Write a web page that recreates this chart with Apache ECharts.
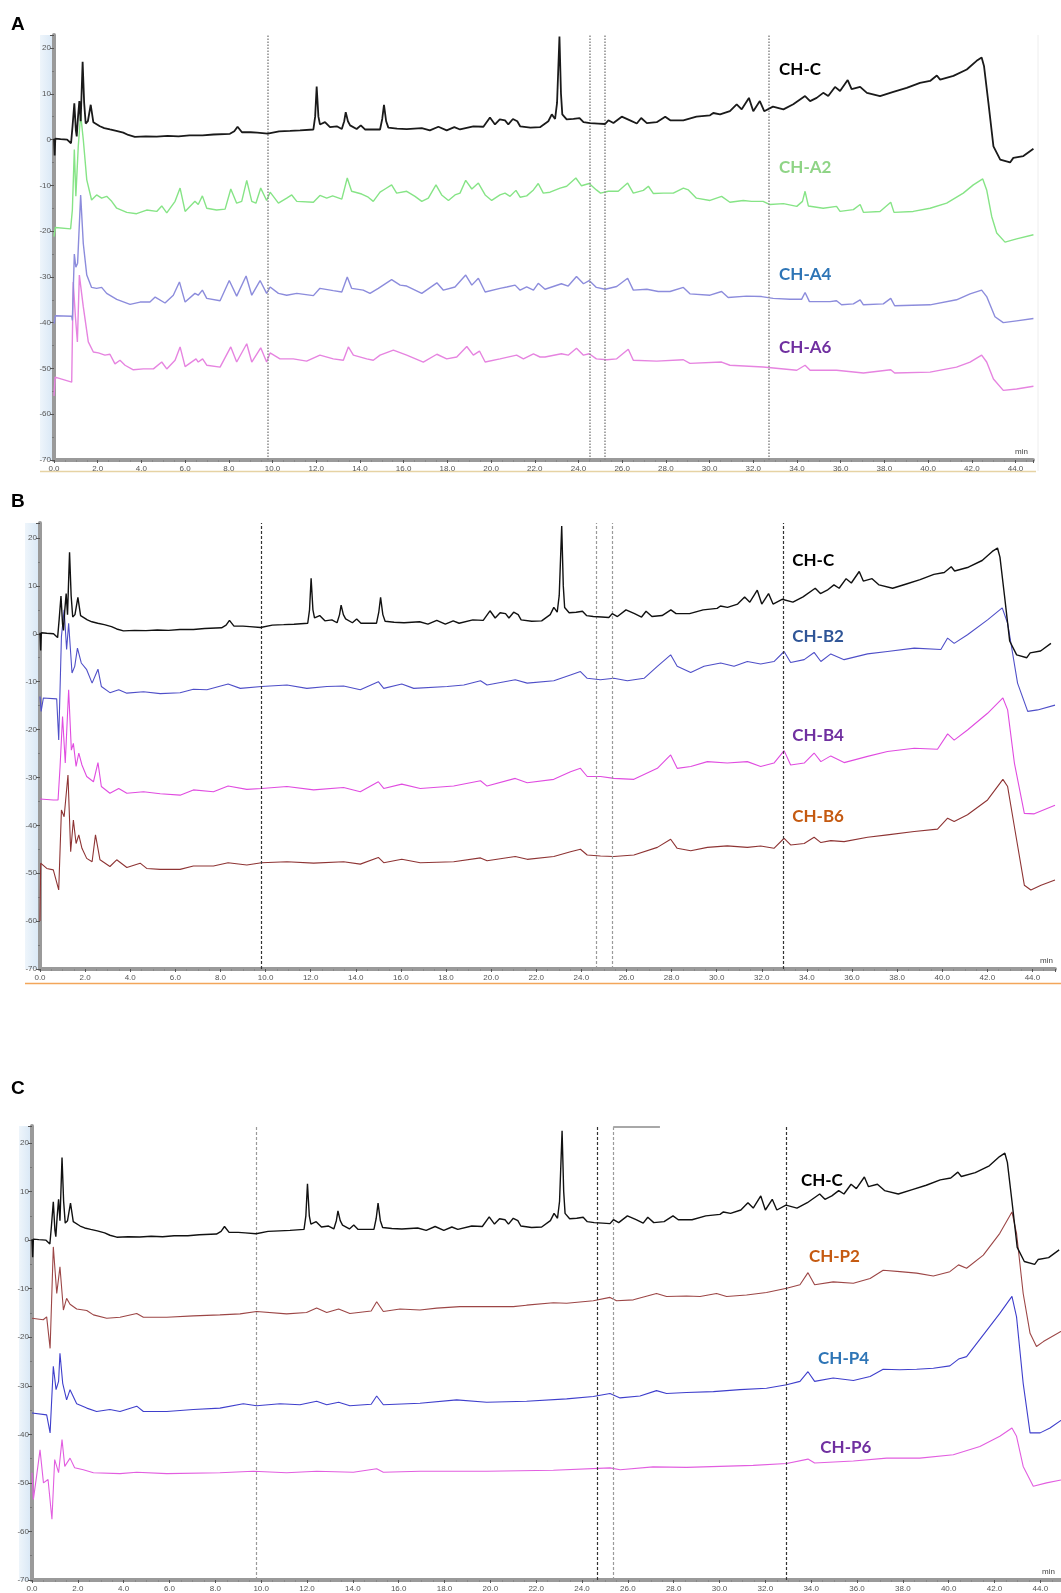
<!DOCTYPE html>
<html>
<head>
<meta charset="utf-8">
<script src="https://cdn.jsdelivr.net/npm/echarts@6/dist/echarts.min.js"></script>
<style>
html,body{margin:0;padding:0;background:#fff;}
#chart{width:1061px;height:1593px;}
</style>
</head>
<body>
<div id="chart"></div>
<script>
// ---------- DATA (minutes, signal) ----------
const CH_C = [[0,0.2],[0.03,-3.5],[0.06,0.2],[0.3,0.1],[0.6,0],[0.78,-0.8],[0.85,3],[0.93,7.9],[1.0,2],[1.04,0.7],[1.1,5],[1.16,8.4],[1.22,4],[1.31,17.0],[1.38,8],[1.45,3.5],[1.55,4],[1.68,7.6],[1.8,3.8],[2.1,2.9],[2.3,2.5],[2.56,2.2],[2.85,1.9],[3.17,1.5],[3.4,1.0],[3.7,0.6],[4.2,0.7],[4.7,0.65],[5.2,0.8],[5.7,0.7],[6.2,0.9],[6.8,0.9],[7.3,1.1],[8.05,1.25],[8.25,1.8],[8.4,2.8],[8.6,1.6],[9.0,1.6],[9.3,1.5],[9.78,1.3],[10.3,1.8],[10.8,1.9],[11.26,2.0],[11.87,2.2],[11.95,5],[12.02,11.6],[12.1,5],[12.17,3.3],[12.4,3.8],[12.63,2.7],[12.94,2.9],[13.17,2.3],[13.28,4],[13.35,6.0],[13.45,4],[13.55,3.1],[13.85,2.3],[14.04,3.1],[14.23,2.2],[14.92,2.2],[15.02,4.5],[15.1,7.6],[15.2,4],[15.3,2.6],[15.7,2.4],[16.14,2.3],[16.83,2.5],[17.2,2.0],[17.59,2.8],[17.97,2.0],[18.32,2.7],[18.58,2.2],[19.19,2.9],[19.65,2.8],[19.95,4.8],[20.18,3.3],[20.4,4.4],[20.64,4.2],[20.79,3.3],[21.0,4.5],[21.2,4.0],[21.33,2.9],[21.8,2.6],[22.24,2.7],[22.62,4.0],[22.78,5.5],[22.93,4.5],[23.02,8],[23.13,22.5],[23.2,10],[23.26,5.5],[23.46,4.4],[23.77,4.5],[24.05,4.7],[24.23,3.8],[24.53,3.6],[24.9,3.5],[25.22,3.4],[25.37,4.2],[25.6,3.6],[25.98,5.0],[26.36,4.2],[26.67,3.5],[26.87,4.7],[27.13,3.6],[27.58,3.8],[27.97,5.0],[28.2,4.2],[28.8,4.2],[29.4,5.0],[30.02,5.3],[30.17,5.8],[30.48,5.5],[30.93,6.2],[31.24,7.7],[31.47,6.6],[31.8,9.1],[32.0,6.2],[32.3,8.4],[32.5,6.2],[32.9,7.2],[33.38,6.6],[33.83,7.7],[34.37,9.5],[34.6,8.4],[34.9,9.1],[35.2,10.2],[35.43,9.5],[35.74,11.5],[35.97,10.6],[36.32,13.0],[36.5,11.0],[36.89,11.5],[37.2,10.2],[37.8,9.5],[38.41,10.4],[39.02,11.3],[39.63,12.4],[40.09,12.8],[40.4,14.0],[40.55,13.1],[41.16,13.9],[41.77,15.3],[42.22,17.2],[42.45,17.9],[42.56,16.0],[42.76,8.0],[42.99,-1.5],[43.3,-4.4],[43.75,-5.0],[43.9,-4.0],[44.36,-3.6],[44.82,-2.0]];

const CH_A2 = [[0,-21.2],[0.06,-19.2],[0.76,-19.5],[0.84,-15.4],[0.93,-2.2],[1.0,-12.4],[1.11,-1.5],[1.22,5.5],[1.34,0],[1.5,-8.8],[1.72,-13.2],[1.95,-12.1],[2.18,-12.8],[2.41,-12.4],[2.64,-13.5],[2.87,-15],[3.33,-15.9],[3.78,-16.2],[4.24,-15.4],[4.7,-15.7],[4.93,-14.5],[5.16,-16],[5.54,-13.5],[5.77,-10.6],[6.0,-15.7],[6.45,-13.5],[6.6,-14.2],[6.79,-12.3],[6.99,-15],[7.44,-15.4],[7.83,-15.2],[8.09,-10.8],[8.36,-13.9],[8.59,-13.5],[8.82,-8.9],[9.05,-13.5],[9.24,-13.9],[9.46,-10.6],[9.73,-13.3],[9.89,-11.5],[10.27,-13.9],[10.65,-12.8],[10.88,-12.1],[11.11,-13.5],[11.87,-13.7],[12.17,-12.2],[12.48,-12.8],[12.75,-12.3],[13.17,-13.0],[13.42,-8.4],[13.62,-11.3],[14.08,-11.9],[14.38,-12.6],[14.61,-13.5],[14.92,-11.5],[15.15,-10.8],[15.45,-9.9],[15.68,-11.7],[16.14,-11.3],[16.52,-12.4],[16.83,-13.5],[17.13,-12.8],[17.48,-9.9],[17.74,-12.1],[18.05,-13.3],[18.35,-12.1],[18.58,-11.7],[18.84,-8.9],[19.12,-10.8],[19.42,-9.5],[19.73,-12.1],[20.03,-13.3],[20.41,-12.1],[20.64,-11.7],[20.87,-12.4],[21.14,-11.1],[21.33,-12.6],[21.63,-12.3],[21.94,-11.0],[22.16,-9.6],[22.39,-11.7],[22.7,-11.5],[23.16,-10.6],[23.46,-10.2],[23.88,-8.4],[24.14,-10.1],[24.49,-9.6],[24.82,-11.0],[25.01,-11.7],[25.37,-11.3],[25.82,-11.3],[26.25,-9.5],[26.51,-11.7],[26.97,-11.1],[27.2,-10.2],[27.43,-11.8],[27.88,-11.7],[28.34,-11.7],[28.8,-10.6],[29.03,-11.0],[29.4,-12.8],[30.02,-13.3],[30.55,-12.4],[30.93,-13.7],[31.54,-13.3],[31.92,-13.5],[32.45,-13.5],[32.76,-14.2],[33.38,-14.0],[33.99,-14.6],[34.25,-13.5],[34.37,-11.3],[34.52,-14.5],[35.2,-15.0],[35.81,-14.6],[35.97,-15.7],[36.58,-15.3],[36.89,-14.2],[37.04,-15.9],[37.8,-15.7],[38.29,-13.7],[38.44,-15.9],[39.32,-15.7],[40.09,-15.0],[40.85,-13.9],[41.61,-11.7],[42.07,-9.9],[42.5,-8.6],[42.68,-11],[42.91,-16.8],[43.14,-20.4],[43.52,-22.4],[44.05,-21.7],[44.82,-20.8]];

const CH_A4 = [[0,-40.2],[0.06,-38.5],[0.81,-38.6],[0.84,-39.5],[0.93,-25],[1.0,-27.9],[1.08,-27],[1.22,-12.1],[1.34,-22.7],[1.5,-29.6],[1.72,-32.3],[1.95,-32.5],[2.18,-32.3],[2.41,-33.6],[2.87,-34.9],[3.48,-36.0],[3.94,-35.5],[4.39,-35.5],[4.63,-34.4],[5.08,-35.7],[5.46,-34],[5.74,-31.1],[6.0,-35.5],[6.45,-33.6],[6.6,-34],[6.79,-32.9],[6.99,-34.7],[7.6,-35.2],[8.02,-30.8],[8.36,-34.2],[8.79,-29.8],[9.05,-34],[9.43,-30.8],[9.73,-33.6],[9.89,-32.2],[10.27,-33.6],[10.65,-34],[11.11,-33.6],[11.87,-34.1],[12.17,-32.5],[12.78,-33],[13.17,-33.3],[13.42,-30],[13.62,-32.5],[14.15,-32.9],[14.46,-33.6],[14.84,-32.5],[15.45,-30.6],[15.84,-31.8],[16.14,-32],[16.83,-33.6],[17.52,-31.3],[17.82,-32.9],[18.35,-32.2],[18.84,-29.6],[19.12,-31.8],[19.42,-30.3],[19.73,-33.3],[20.41,-32.5],[20.72,-32.2],[21.1,-31.8],[21.33,-32.9],[21.63,-32.2],[21.94,-32.9],[22.16,-31.4],[22.47,-32.7],[23.22,-31.5],[23.53,-32],[23.91,-29.9],[24.23,-31.5],[24.49,-30.8],[24.82,-32.3],[25.22,-32.7],[25.75,-32.1],[26.25,-30.3],[26.51,-32.9],[27.13,-32.7],[27.65,-33.2],[28.19,-33.2],[28.8,-32.3],[29.1,-33.7],[30.02,-34],[30.55,-33.2],[30.85,-34.5],[31.69,-34.2],[32.38,-34.3],[32.91,-34.7],[33.68,-34.9],[34.21,-34.9],[34.37,-33.4],[34.57,-35.4],[35.51,-35.4],[35.81,-35.2],[36.04,-36.1],[36.58,-35.9],[36.89,-35],[37.04,-36.1],[37.95,-35.9],[38.29,-34.7],[38.47,-36.3],[40.09,-36.1],[41.3,-35],[41.92,-33.7],[42.45,-32.9],[42.68,-34.3],[43.06,-38.7],[43.44,-40],[44.05,-39.6],[44.82,-39.1]];

const CH_A6 = [[0,-56],[0.05,-51.9],[0.12,-52.3],[0.81,-53],[0.88,-31.1],[0.98,-38.7],[1.07,-44.2],[1.16,-29.6],[1.25,-30],[1.34,-36.5],[1.57,-44.2],[1.8,-46.4],[2.03,-46.6],[2.33,-47.1],[2.56,-46.9],[2.79,-49],[3.02,-48.2],[3.25,-49.3],[3.63,-50.3],[4.09,-50.1],[4.55,-50.1],[4.93,-48.6],[5.16,-50.1],[5.54,-48.2],[5.77,-45.3],[6.0,-49.6],[6.5,-47.9],[6.6,-48.6],[6.8,-47.9],[6.99,-49.3],[7.6,-49.7],[8.09,-45.3],[8.36,-48.6],[8.82,-44.6],[9.05,-48.6],[9.46,-45.5],[9.73,-48.6],[9.89,-46.6],[10.34,-47.9],[10.95,-47.9],[11.56,-48.4],[12.17,-47.1],[12.78,-47.9],[13.24,-48.2],[13.47,-45.3],[13.7,-47.1],[14.31,-47.9],[14.61,-48.2],[14.92,-47.1],[15.53,-46],[16.14,-47.1],[16.9,-48.6],[17.52,-46.9],[17.97,-47.9],[18.43,-47.5],[18.89,-45.2],[19.19,-47.1],[19.47,-46.2],[19.73,-48.6],[20.41,-47.9],[21.17,-47.1],[21.48,-47.9],[21.94,-46.8],[22.24,-47.5],[22.47,-47.5],[23.22,-46.8],[23.53,-47.1],[23.91,-45.6],[24.23,-47.1],[24.49,-46.8],[24.82,-47.9],[25.3,-48.1],[25.75,-47.9],[26.28,-45.8],[26.51,-48.2],[27.58,-48.4],[28.8,-48.1],[29.1,-48.9],[30.55,-48.6],[30.93,-49.3],[32.45,-49.7],[33.99,-50.4],[34.37,-49.3],[34.6,-50.4],[35.81,-50.4],[37.04,-51],[38.29,-50.3],[38.47,-51],[40.09,-50.8],[41.3,-49.7],[41.92,-48.6],[42.45,-47.1],[42.68,-48.6],[42.99,-52.3],[43.44,-54.8],[44.05,-54.5],[44.82,-53.9]];

const CH_B2 = [[0,-13.1],[0.05,-16.2],[0.15,-13.4],[0.74,-13.6],[0.83,-22.2],[0.95,-0.6],[1.07,5.0],[1.18,-3.3],[1.27,2.2],[1.42,-8.2],[1.54,-6.8],[1.66,-3.0],[1.83,-6.1],[2.07,-7.5],[2.31,-10.3],[2.57,-7.4],[2.72,-11],[3.1,-12.3],[3.49,-11.7],[3.85,-12.4],[4.59,-12.1],[5.33,-12.5],[6.21,-12.3],[6.8,-11.6],[7.4,-11.7],[8.34,-10.5],[8.88,-11.4],[9.82,-11],[10.95,-10.7],[11.83,-11.4],[12.72,-11],[13.46,-10.9],[14.2,-11.7],[15.0,-10.0],[15.24,-11.4],[16.04,-10.5],[16.57,-11.4],[18.05,-11],[18.79,-10.7],[19.53,-9.8],[19.82,-10.7],[21.07,-9.6],[21.6,-10.3],[22.78,-9.8],[23.52,-8.6],[23.96,-7.9],[24.26,-9.3],[24.85,-9.6],[25.44,-9.3],[26.04,-9.8],[26.78,-9.3],[27.37,-6.8],[27.96,-4.4],[28.25,-6.8],[28.85,-8.1],[29.44,-6.8],[30.18,-6.1],[30.77,-6.8],[31.36,-5.8],[31.95,-6.3],[32.54,-5.8],[32.99,-3.7],[33.28,-6.0],[33.88,-5.4],[34.32,-3.9],[34.62,-5.8],[35.06,-4.2],[35.65,-5.4],[36.69,-4.2],[37.57,-3.7],[38.76,-3.0],[39.94,-3.3],[40.24,-0.9],[40.53,-2.0],[41.12,-0.2],[42.01,2.9],[42.66,5.4],[42.9,2.2],[43.34,-10.3],[43.79,-16.2],[44.23,-15.9],[45.0,-14.9]];

const CH_B4 = [[0,-34.5],[0.59,-34.7],[0.8,-34.7],[0.89,-27.7],[1.0,-17.3],[1.12,-27],[1.27,-11.7],[1.39,-24.3],[1.48,-22.9],[1.6,-27.7],[1.72,-24.9],[1.86,-27.4],[2.07,-29.8],[2.37,-30.9],[2.57,-26.9],[2.72,-31.9],[3.1,-33.3],[3.49,-32.3],[3.85,-33.3],[4.59,-33],[5.33,-33.4],[6.21,-33.7],[6.8,-32.6],[7.69,-33],[8.34,-31.8],[9.17,-32.5],[9.82,-32.3],[10.95,-31.9],[12.13,-32.6],[13.46,-32.1],[14.2,-33],[15.0,-30.9],[15.24,-32.3],[16.04,-31.4],[16.86,-32.3],[18.34,-31.8],[19.53,-30.7],[19.82,-31.8],[21.07,-30.2],[21.6,-31.1],[22.78,-30.4],[23.52,-28.8],[23.96,-28.1],[24.26,-29.8],[24.85,-29.8],[25.44,-30.2],[26.33,-30.4],[27.37,-28.1],[27.96,-25.3],[28.25,-28.1],[28.85,-27.7],[29.59,-26.7],[30.47,-27],[31.36,-26.7],[31.95,-27.7],[32.54,-27],[32.99,-24.4],[33.28,-27.4],[33.88,-27],[34.32,-24.9],[34.62,-26.7],[35.06,-25.5],[35.65,-26.9],[36.69,-25.6],[37.57,-24.6],[38.76,-23.9],[39.79,-24.1],[40.24,-20.9],[40.53,-22.2],[41.12,-20.1],[42.01,-16.6],[42.69,-13.4],[42.9,-15.9],[43.2,-27],[43.64,-37.5],[44.08,-37.6],[45.0,-35.8]];

const CH_B6 = [[0,-60],[0.03,-47.9],[0.3,-49],[0.59,-49.3],[0.83,-53.5],[0.95,-36.8],[1.07,-38.2],[1.24,-29.5],[1.36,-45.5],[1.48,-38.9],[1.6,-43.8],[1.72,-42],[1.86,-44.8],[2.07,-46.9],[2.31,-47.6],[2.46,-42],[2.66,-47.2],[3.1,-48.6],[3.4,-47.2],[3.85,-48.8],[4.44,-47.9],[4.73,-49],[5.33,-49.2],[6.21,-49.2],[6.8,-48.5],[7.69,-48.5],[8.34,-47.8],[9.17,-48.3],[9.82,-47.8],[10.95,-47.6],[12.13,-47.9],[13.46,-47.6],[14.2,-48.1],[15.0,-46.7],[15.24,-47.8],[16.04,-47.1],[16.86,-47.8],[18.34,-47.6],[19.53,-46.8],[19.82,-47.4],[21.07,-46.5],[21.6,-47.1],[22.78,-46.5],[23.52,-45.5],[23.96,-45],[24.26,-46.2],[24.85,-46.4],[25.44,-46.5],[26.33,-46.2],[27.37,-44.6],[27.96,-42.9],[28.25,-44.8],[28.85,-45.3],[29.59,-44.6],[30.47,-44.3],[31.36,-44.6],[31.95,-44.3],[32.54,-44.8],[32.99,-42.7],[33.28,-44.1],[33.88,-43.8],[34.32,-42.5],[34.62,-43.6],[35.06,-43.2],[35.65,-43.4],[36.69,-42.5],[37.57,-42],[38.76,-41.3],[39.79,-40.8],[40.24,-38.5],[40.53,-39.2],[41.12,-37.8],[42.01,-34.7],[42.69,-30.4],[42.9,-31.9],[43.2,-40.3],[43.64,-52.5],[43.93,-53.5],[44.38,-52.5],[45.0,-51.4]];

const CH_P2 = [[0,-16.1],[0.49,-16.4],[0.64,-15.8],[0.79,-22.3],[0.93,-1.4],[1.08,-11],[1.22,-5.5],[1.37,-14.4],[1.51,-12],[1.66,-13.2],[1.95,-14.2],[2.39,-14.5],[2.68,-15.4],[3.26,-16.1],[3.84,-15.9],[4.57,-15.1],[4.86,-15.9],[5.88,-15.9],[7.04,-15.6],[8.2,-15.4],[9.08,-15.2],[9.8,-14.7],[11.11,-15.2],[11.98,-14.9],[12.42,-14],[12.86,-14.9],[13.38,-14.2],[13.87,-15.1],[14.8,-14.6],[15.04,-12.7],[15.33,-14.7],[16.06,-14.2],[16.93,-14.4],[17.66,-14],[18.67,-13.7],[19.84,-13.7],[21.0,-13.7],[21.58,-13.4],[22.75,-12.9],[23.33,-13],[24.49,-12.5],[25.22,-11.8],[25.51,-12.5],[26.24,-12.3],[27.25,-11],[27.69,-11.6],[28.56,-11.5],[29.15,-11.6],[29.87,-11],[30.31,-11.6],[31.18,-11.3],[32.05,-10.8],[32.93,-9.9],[33.51,-9.2],[33.86,-6.7],[34.15,-9.2],[34.96,-8.6],[35.84,-8.9],[36.57,-7.9],[37.14,-6.2],[37.87,-6.5],[38.6,-6.8],[39.33,-7.4],[40.05,-6.5],[40.43,-5.1],[40.78,-5.8],[41.51,-3.1],[42.23,1.4],[42.76,5.8],[42.96,1.4],[43.25,-11],[43.55,-19.2],[43.83,-21.9],[44.13,-20.9],[45.0,-18.5]];

const CH_P4 = [[0,-35.6],[0.64,-36],[0.79,-39.7],[0.93,-26],[1.05,-30.8],[1.16,-29.1],[1.22,-23.3],[1.34,-29.5],[1.51,-32.9],[1.66,-30.8],[1.95,-33.7],[2.39,-34.6],[2.82,-35.3],[3.4,-34.9],[3.84,-35.3],[4.57,-34.2],[4.86,-35.3],[5.88,-35.3],[7.04,-34.9],[8.2,-34.6],[9.22,-33.7],[9.8,-34.1],[10.82,-33.7],[11.69,-33.9],[12.42,-33.2],[12.86,-33.9],[13.38,-33.4],[13.87,-34.1],[14.8,-33.8],[15.04,-32.1],[15.33,-33.9],[16.93,-33.6],[18.53,-32.9],[19.84,-33.4],[21.58,-33.2],[23.33,-32.7],[24.49,-32.2],[25.22,-31.6],[25.66,-32.5],[26.53,-32.1],[27.25,-31],[27.69,-31.6],[28.56,-31.4],[29.73,-31.2],[30.89,-30.8],[32.05,-30.5],[32.93,-29.8],[33.51,-29.1],[33.86,-27.1],[34.15,-29.1],[34.96,-28.4],[35.84,-28.9],[36.57,-28.1],[37.14,-26.6],[37.87,-26.7],[38.6,-26.6],[39.33,-26.4],[40.05,-25.9],[40.43,-24.5],[40.78,-24],[41.51,-19.5],[42.23,-15.1],[42.76,-11.6],[42.96,-15.8],[43.25,-29.5],[43.55,-39.7],[43.99,-39.7],[44.42,-38.7],[45.0,-36.8]];

const CH_P6 = [[0,-47.9],[0.06,-53.4],[0.2,-48.6],[0.35,-43.2],[0.5,-50],[0.7,-49.3],[0.87,-57.5],[0.99,-45.2],[1.16,-47.9],[1.31,-41.1],[1.43,-46.6],[1.66,-44.9],[1.86,-46.9],[2.24,-47.3],[2.68,-47.9],[3.84,-48.1],[4.57,-47.8],[5.88,-48.1],[8.2,-47.9],[9.66,-47.6],[11.11,-47.9],[12.42,-47.6],[14.02,-47.8],[15.04,-47.1],[15.33,-47.8],[16.93,-47.6],[19.84,-47.6],[22.75,-47.4],[25.22,-46.9],[25.66,-47.3],[27.1,-46.7],[28.56,-46.8],[31.47,-46.4],[32.93,-46],[33.86,-45.1],[34.15,-45.9],[35.84,-45.5],[37.29,-44.9],[38.74,-44.9],[40.2,-44.2],[41.36,-42.5],[42.23,-40.4],[42.76,-38.7],[42.96,-40.4],[43.25,-46.6],[43.69,-50.7],[44.27,-50],[45.0,-49.3]];

// dotted marker positions (min)
const marksA = [9.78, 24.5, 25.2, 32.7];
const marksB = [9.82, 24.67, 25.36, 32.93];
const marksC = [9.8, 24.67, 25.36, 32.93];
const bracketC = [[25.36, 23.35], [27.4, 23.35]];

// trace labels: [text, minutes, signal]
const labelsA = [['CH-C', 33.18, 15.3], ['CH-A2', 33.18, -6.1], ['CH-A4', 33.18, -29.5], ['CH-A6', 33.18, -45.5]];
const labelsB = [['CH-C', 33.35, 15.4], ['CH-B2', 33.35, -0.56], ['CH-B4', 33.35, -21.25], ['CH-B6', 33.35, -38.1]];
const labelsC = [['CH-C', 33.55, 12.3], ['CH-P2', 33.9, -3.3], ['CH-P4', 34.3, -24.4], ['CH-P6', 34.4, -42.7]];
const panelLetters = ['A', 'B', 'C'];

// ---------- STYLE ----------
const labelColorsA = ['#000000', '#8fd486', '#2e75b6', '#7030a0'];
const labelColorsB = ['#000000', '#2f5597', '#7030a0', '#c55a11'];
const labelColorsC = ['#000000', '#c55a11', '#2e75b6', '#7030a0'];

const grids = [
  {left: 54, top: 35, width: 979, height: 425},
  {left: 40, top: 523, width: 1015, height: 446},
  {left: 32, top: 1126, width: 1029, height: 455}
];
const xMax = [44.8, 45.0, 44.9];
const yMax = [22.84, 23.13, 23.5];
const minNameGap = [-18, -15, -19];

function xAxisCfg(i) {
  return {
    type: 'value', gridIndex: i, min: 0, max: xMax[i], interval: 2,
    name: 'min', nameLocation: 'end', nameGap: minNameGap[i],
    nameTextStyle: {fontSize: 8, color: '#444', fontFamily: 'Liberation Sans', verticalAlign: 'bottom', padding: [0, 0, 4, 0]},
    axisLine: {show: true, onZero: false, lineStyle: {color: '#9a9a9a', width: 4}},
    axisTick: {show: true, length: 3, lineStyle: {color: '#555', width: 1}},
    minorTick: {show: true, splitNumber: 4, length: 2, lineStyle: {color: '#888'}},
    axisLabel: {fontSize: 8, color: '#555', fontFamily: 'Liberation Sans', margin: 5, showMaxLabel: false,
      formatter: v => v.toFixed(1)},
    splitLine: {show: false}
  };
}
function yAxisCfg(i) {
  return {
    type: 'value', gridIndex: i, min: -70, max: yMax[i], interval: 10,
    axisLine: {show: true, onZero: false, lineStyle: {color: '#9a9a9a', width: 4}},
    axisTick: {show: true, length: 4, lineStyle: {color: '#555', width: 1}},
    minorTick: {show: true, splitNumber: 2, length: 2, lineStyle: {color: '#777'}},
    axisLabel: {fontSize: 8, color: '#555', fontFamily: 'Liberation Sans', margin: 3, showMaxLabel: false,
      formatter: v => (Math.abs(v - Math.round(v)) < 1e-6 && Math.round(v) % 10 === 0) ? String(Math.round(v)) : ''},
    splitLine: {show: false}
  };
}

function trace(i, name, data, color, width, z) {
  return {
    type: 'line', name: name, xAxisIndex: i, yAxisIndex: i, data: data,
    showSymbol: false, symbol: 'none', smooth: false, z: z || 2,
    lineStyle: {color: color, width: width}, silent: true
  };
}
function markerLines(times, styles) {
  return {
    silent: true, symbol: 'none', label: {show: false},
    data: times.map((t, k) => ({xAxis: t, lineStyle: styles[k]}))
  };
}
function labelSeries(i, labels, colors) {
  return {
    type: 'scatter', xAxisIndex: i, yAxisIndex: i, symbolSize: 0, silent: true, z: 10,
    itemStyle: {opacity: 1},
    data: labels.map((l, k) => ({
      value: [l[1], l[2]],
      itemStyle: {opacity: 1},
      label: {show: true, position: 'right', distance: 0, formatter: l[0], opacity: 1,
        color: colors[k], fontSize: 17, fontWeight: 'bold', fontFamily: 'Lato, "Open Sans", sans-serif'}
    }))
  };
}

const dotGray = {type: 'dotted', color: '#8a8a8a', width: 1.5};
const dashDark = {type: [3, 2], color: '#333', width: 1.2};
const dashGray = {type: [3, 2], color: '#9a9a9a', width: 1.2};

const cA = trace(0, 'CH-C', CH_C, '#1a1a1a', 1.8, 5);
cA.markLine = markerLines(marksA, [dotGray, dotGray, dotGray, dotGray]);
const cB = trace(1, 'CH-C', CH_C, '#111', 1.4, 5);
cB.markLine = markerLines(marksB, [dashDark, dashGray, dashGray, dashDark]);
const cC = trace(2, 'CH-C', CH_C, '#111', 1.4, 5);
cC.markLine = markerLines(marksC, [dashGray, dashDark, dashGray, dashDark]);
cC.markLine.data.push([
  {coord: bracketC[0], lineStyle: {type: 'solid', color: '#a8a8a8', width: 2}},
  {coord: bracketC[1]}
]);

const series = [
  trace(0, 'CH-A6', CH_A6, '#e684e0', 1.4),
  trace(0, 'CH-A4', CH_A4, '#8c8cdc', 1.4),
  trace(0, 'CH-A2', CH_A2, '#86e486', 1.4),
  cA,
  labelSeries(0, labelsA, labelColorsA),
  trace(1, 'CH-B6', CH_B6, '#8e3434', 1.1),
  trace(1, 'CH-B4', CH_B4, '#e04ce0', 1.1),
  trace(1, 'CH-B2', CH_B2, '#4f4fc8', 1.1),
  cB,
  labelSeries(1, labelsB, labelColorsB),
  trace(2, 'CH-P6', CH_P6, '#e25ee0', 1.1),
  trace(2, 'CH-P4', CH_P4, '#3f3fcc', 1.1),
  trace(2, 'CH-P2', CH_P2, '#9c4646', 1.1),
  cC,
  labelSeries(2, labelsC, labelColorsC)
];

// decorative bands / letters
const bandGrad = new echarts.graphic.LinearGradient(0, 0, 1, 0, [{offset: 0, color: '#eef5fb'}, {offset: 1, color: '#dbe9f6'}]);
const graphic = [
  {type: 'rect', shape: {x: 40, y: 35, width: 12, height: 425}, style: {fill: bandGrad}, z: -1},
  {type: 'rect', shape: {x: 25, y: 523, width: 13, height: 446}, style: {fill: bandGrad}, z: -1},
  {type: 'rect', shape: {x: 19, y: 1126, width: 11, height: 455}, style: {fill: bandGrad}, z: -1},
  {type: 'line', shape: {x1: 40, y1: 471.5, x2: 1036, y2: 471.5}, style: {stroke: '#e6d3a4', lineWidth: 1.5}},
  {type: 'line', shape: {x1: 1038, y1: 35, x2: 1038, y2: 471}, style: {stroke: '#eeeeee', lineWidth: 1}},
  {type: 'line', shape: {x1: 25, y1: 983.5, x2: 1061, y2: 983.5}, style: {stroke: '#f3a65a', lineWidth: 1.5}},
  {type: 'text', left: 11, top: 15, style: {text: panelLetters[0], font: 'bold 19px "Liberation Sans", Arial', fill: '#000'}},
  {type: 'text', left: 11, top: 492, style: {text: panelLetters[1], font: 'bold 19px "Liberation Sans", Arial', fill: '#000'}},
  {type: 'text', left: 11, top: 1079, style: {text: panelLetters[2], font: 'bold 19px "Liberation Sans", Arial', fill: '#000'}}
];

const chart = echarts.init(document.getElementById('chart'), null, {renderer: 'canvas'});
chart.setOption({
  backgroundColor: '#ffffff',
  animation: false,
  grid: grids,
  xAxis: [0, 1, 2].map(xAxisCfg),
  yAxis: [0, 1, 2].map(yAxisCfg),
  series: series,
  graphic: graphic
});
</script>
</body>
</html>
